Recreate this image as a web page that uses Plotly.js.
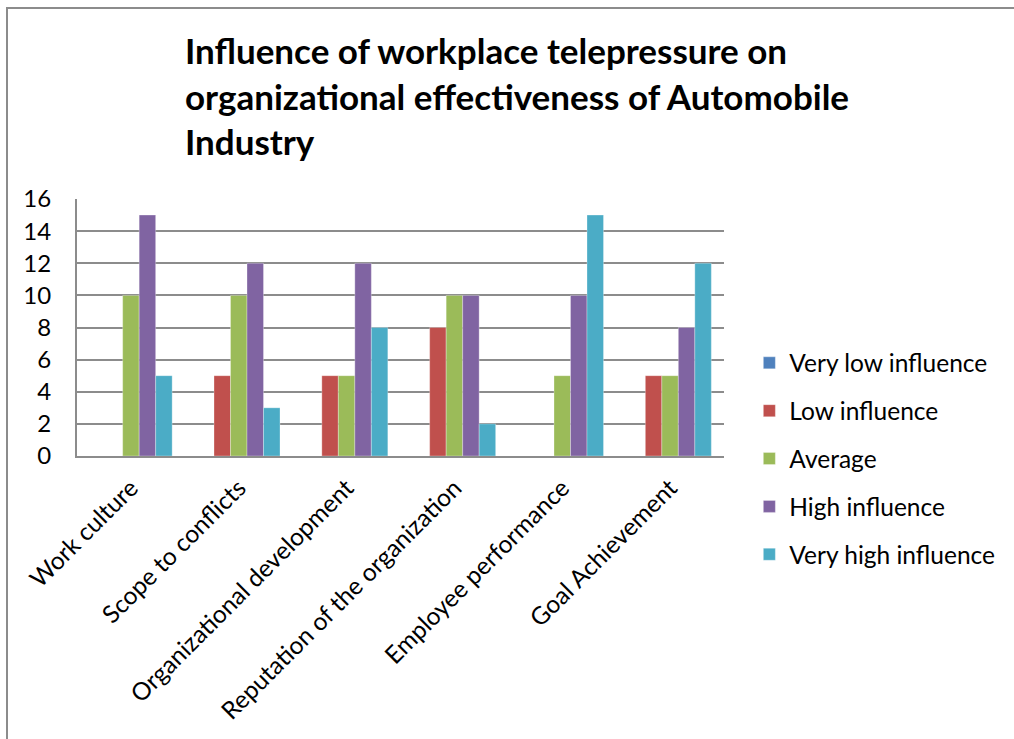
<!DOCTYPE html>
<html>
<head>
<meta charset="utf-8">
<script src="https://cdn.plot.ly/plotly-3.0.1.min.js"></script>
<style>
  html, body { margin: 0; padding: 0; background: #fff; }
  #chart { position: absolute; left: 0; top: 0; width: 1014px; height: 739px; }
  #frame { position: absolute; left: 6px; top: 7px; width: 1020px; height: 740px;
           border-left: 2px solid #8c8c8c; border-top: 2px solid #8c8c8c; pointer-events: none; }
</style>
</head>
<body>
<div id="chart"></div>
<div id="frame"></div>
<script>
const categories = ["Work culture", "Scope to conflicts", "Organizational development",
  "Reputation of the organization", "Employee performance", "Goal Achievement"];
const seriesNames = ["Very low influence", "Low influence", "Average", "High influence", "Very high influence"];
const veryLow  = [0, 0, 0, 0, 0, 0];
const low      = [0, 5, 5, 8, 0, 5];
const average  = [10, 10, 5, 10, 5, 5];
const high     = [15, 12, 12, 10, 10, 8];
const veryHigh = [5, 3, 8, 2, 15, 12];
const colors = ["#4F81BD", "#C0504D", "#9BBB59", "#8064A2", "#4BACC6"];
const yTicks = [0, 2, 4, 6, 8, 10, 12, 14, 16];

const allSeries = [veryLow, low, average, high, veryHigh];
const FONT = "Lato, 'Open Sans', sans-serif";

const traces = allSeries.map((vals, i) => ({
  type: "bar",
  name: seriesNames[i],
  x: categories,
  y: vals,
  legendgroup: "g" + i,
  marker: { color: colors[i], line: { color: "rgba(255,255,255,0.6)", width: 0.5 } },
  hoverinfo: "x+y+name"
}));

const layout = {
  width: 1014,
  height: 739,
  paper_bgcolor: "#ffffff",
  plot_bgcolor: "#ffffff",
  font: { family: FONT, color: "#000000", size: 20 },
  margin: { l: 77, r: 290, t: 199, b: 283, pad: 0 },
  barmode: "group",
  bargap: 0.235,
  bargroupgap: 0,
  title: {
    text: "Influence of workplace telepressure on<br>organizational effectiveness of Automobile<br>Industry",
    font: { family: FONT, size: 35, color: "#000000", weight: "bold" },
    xref: "container", x: 0.1824, xanchor: "left",
    yref: "container", y: 0.913, yanchor: "top"
  },
  xaxis: {
    type: "category",
    tickangle: -45,
    showgrid: false,
    showline: true, linecolor: "#8c8c8c", linewidth: 2,
    ticks: "", ticklabelstandoff: 6,
    tickfont: { family: FONT, size: 24.5, color: "#000000" },
    fixedrange: true
  },
  yaxis: {
    range: [0, 16],
    tickvals: yTicks,
    ticktext: yTicks.map(String),
    showgrid: true, gridcolor: "#8c8c8c", gridwidth: 2,
    showline: true, linecolor: "#8c8c8c", linewidth: 2,
    zeroline: false,
    ticks: "", ticklabelstandoff: 19,
    tickfont: { family: FONT, size: 24, color: "#000000" },
    fixedrange: true
  },
  showlegend: true,
  legend: {
    xref: "container", yref: "container",
    x: 0.739, xanchor: "left",
    y: 0.379, yanchor: "middle",
    font: { family: FONT, size: 24.5, color: "#000000" },
    tracegroupgap: 13,
    itemwidth: 30,
    bgcolor: "rgba(0,0,0,0)"
  }
};

Plotly.newPlot("chart", traces, layout, { displayModeBar: false, staticPlot: true });
</script>
</body>
</html>
